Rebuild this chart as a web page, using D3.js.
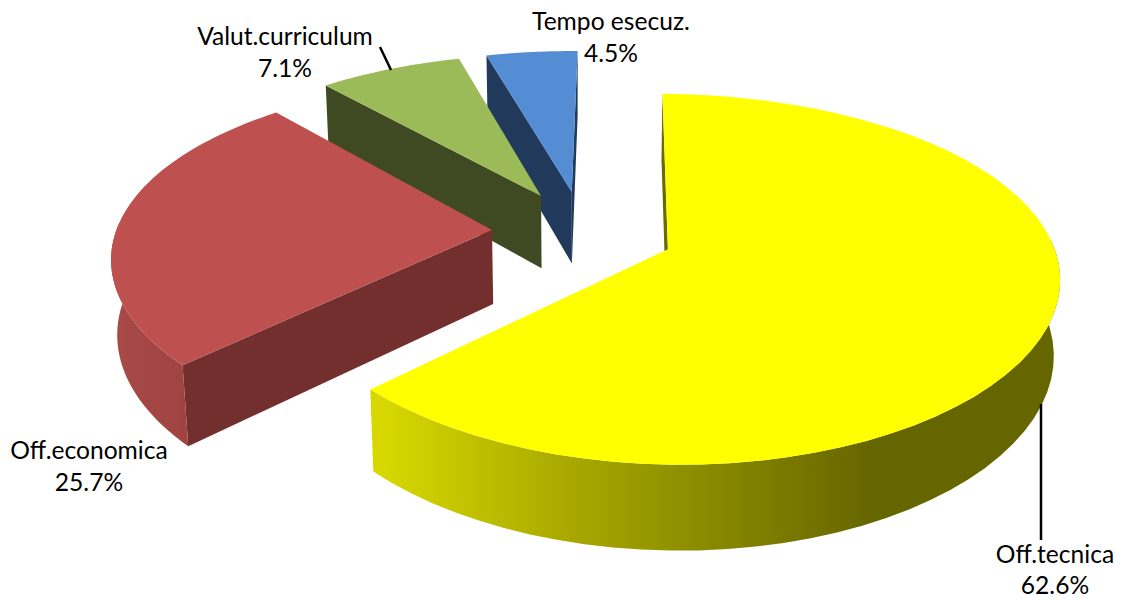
<!DOCTYPE html>
<html><head><meta charset="utf-8">
<script src="https://cdn.jsdelivr.net/npm/d3@7"></script>
<style>html,body{margin:0;padding:0;background:#fff}svg{display:block}text{font-family:Lato,"Open Sans",sans-serif;font-size:24.6px;fill:#000;text-anchor:middle}</style>
</head><body>
<svg id="c" width="1122" height="600"></svg>
<script>
const categories=["Off.tecnica","Off.economica","Valut.curriculum","Tempo esecuz."];
const values=[62.6,25.7,7.1,4.5];
const valueLabels=["62.6%","25.7%","7.1%","4.5%"];
const topColors=["#ffff00","#be5150","#9bbb59","#548dd4"];
const cutColors=["#6a6a00","#722f2e","#3f4a22","#21395a"];
const wallColors=["url(#wy)","url(#wr)","#3f4a22","#21395a"];
const labelX=[1055,89,285,611];
const labelY=[563,459,45,30];
const labelY2=[594,491,77,62];

// perspective model of a tilted, exploded pie
const cx=583,cy=232,R=379,T=175,D=75,p=0.16,px=0.135,s=-0.005,q=0.013,explode=0.241,rot=0.014;
const project=(X,Z,h)=>{const w=1+p*Z+q*h,wx=1+px*Z+s*X+q*h;return [cx+R*X/wx,cy-T*Z/w+D*h/w];};

const svg=d3.select("#c");
const defs=svg.append("defs");
const grad=(id,x1,x2,stops)=>{const g=defs.append("linearGradient").attr("id",id).attr("gradientUnits","userSpaceOnUse").attr("x1",x1).attr("x2",x2).attr("y1",0).attr("y2",0);
 stops.forEach(t=>g.append("stop").attr("offset",t[0]).attr("stop-color",t[1]));};
grad("wy",382,1060,[[0,"#d8d800"],[0.27,"#a9a900"],[0.5,"#878700"],[0.72,"#666600"],[1,"#666600"]]);
grad("wr",112,192,[[0,"#a84a47"],[1,"#9f4341"]]);

const pie=d3.pie().sort(null).startAngle(rot).endAngle(rot+2*Math.PI);
const arcs=pie(values);
const line=d3.line();
const order=[3,2,1,0];
order.forEach(i=>{
  const a=arcs[i],mid=(a.startAngle+a.endAngle)/2;
  const ox=explode*Math.sin(mid),oz=explode*Math.cos(mid);
  const pt=(t,r,h)=>project(ox+r*Math.sin(t),oz+r*Math.cos(t),h);
  const ts=d3.range(0,61).map(k=>a.startAngle+(a.endAngle-a.startAngle)*k/60);
  const g=svg.append("g").attr("class","slice");
  // cut faces: keep only those that turn towards the viewer
  [[a.startAngle,1],[a.endAngle,-1]].forEach(([t,sign])=>{
    const quad=[pt(t,0,0),pt(t,1,0),pt(t,1,1),pt(t,0,1)];
    if(d3.polygonArea(quad)*sign>0) g.append("path").attr("d",line(quad)+"Z").attr("fill",cutColors[i]);
  });
  // outer wall: only the front part of the rim
  const front=ts.filter(t=>Math.cos(t)<0.05);
  if(front.length>1) g.append("path").attr("d",line(front.map(t=>pt(t,1,0)).concat(front.slice().reverse().map(t=>pt(t,1,1))))+"Z").attr("fill",wallColors[i]);
  g.append("path").attr("d",line([pt(0,0,0)].concat(ts.map(t=>pt(t,1,0))))+"Z").attr("fill",topColors[i]);
});

const leaders=[[[1041,404],[1041,540]],[[380,47],[391,70]]];
svg.selectAll("path.leader").data(leaders).enter().append("path").attr("class","leader").attr("d",d=>line(d)).attr("stroke","#000").attr("stroke-width",2.5).attr("fill","none");

categories.forEach((c,i)=>{
  svg.append("text").attr("x",labelX[i]).attr("y",labelY[i]).text(c);
  svg.append("text").attr("x",labelX[i]).attr("y",labelY2[i]).text(valueLabels[i]);
});
</script></body></html>
